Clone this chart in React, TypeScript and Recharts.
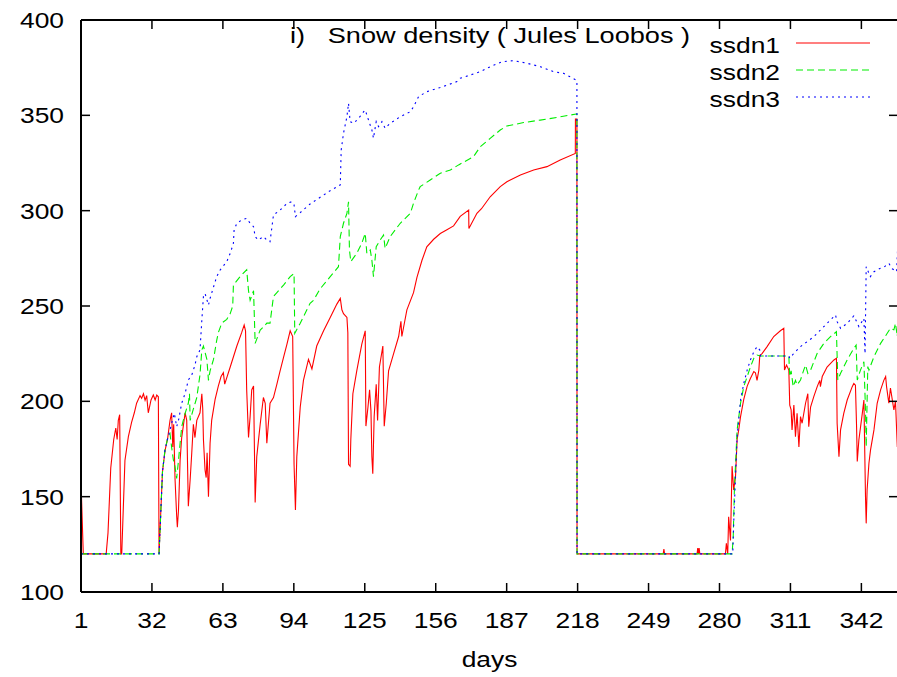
import React from 'react';
import { LineChart, Line, XAxis, YAxis, Legend } from 'recharts';

const DAY_TICKS = [1, 32, 63, 94, 125, 156, 187, 218, 249, 280, 311, 342];
const DENSITY_TICKS = [100, 150, 200, 250, 300, 350, 400];
const DAY_DOMAIN = [1, 358];
const DENSITY_DOMAIN = [100, 400];
const TITLE = 'i)   Snow density ( Jules Loobos )';
const X_LABEL = 'days';

// [day, density]
const SSDN1: [number, number][] = [
  [1, 158], [2, 120], [12, 120], [12.8, 131], [14, 165], [15.3, 180], [16.2, 186], [16.8, 180], [17.3, 190], [17.9, 193], [18.4, 120],
  [18.8, 120], [20.2, 169], [21.7, 181.5], [23.1, 189], [24.3, 194], [25.3, 199], [26.8, 203], [27.5, 201.6], [28.3, 204], [29, 200.5],
  [29.7, 203], [30.4, 194], [31.6, 200.7], [32.6, 203.3], [33.4, 200.7], [34.1, 203.3], [34.8, 202.4], [35.1, 120],
  [36.6, 163], [37.7, 174], [38.9, 181], [39.9, 190], [40.6, 194], [41.1, 176], [41.5, 188], [42.1, 159], [42.8, 140], [43.1, 134],
  [43.6, 143], [44.3, 169], [45, 181], [45.7, 187], [46.5, 194], [47.2, 190], [47.9, 145], [48.7, 159], [49.4, 173], [50.1, 188],
  [50.8, 181], [51.6, 190], [53, 194], [53.8, 204], [54.2, 196], [54.5, 180], [55.2, 164], [55.7, 160], [56.1, 173], [56.7, 150],
  [57.4, 178], [58.1, 190], [59.6, 201], [61, 208], [62.2, 213], [63.2, 215], [63.8, 209], [66.2, 218], [69.1, 229], [71.2, 236],
  [72.3, 240], [72.9, 237], [73.4, 206], [74.2, 181], [74.9, 192], [75.6, 206], [76.4, 208], [77.1, 147], [77.8, 171], [79.3, 188],
  [80.7, 202], [81.5, 199], [82.2, 178], [83.6, 199], [85.1, 202], [86.6, 209], [88, 216], [89.5, 223], [91, 230], [92.4, 237],
  [93.5, 234], [94.1, 167], [94.7, 143], [95.3, 171], [96.8, 197], [98.2, 211], [100.4, 222], [101.9, 217], [104, 229], [107, 237],
  [109.9, 244], [112.8, 251], [114.3, 254], [115, 248], [115.7, 246], [117.2, 244], [117.6, 236], [117.9, 167], [118.6, 166],
  [118.9, 180], [119.8, 204], [121.5, 216], [123.7, 230], [125.2, 237], [125.5, 187], [126.4, 197], [127.1, 206], [127.7, 195],
  [128.1, 171], [128.5, 162], [129.1, 192], [130, 209], [130.6, 190], [131.4, 218], [132.9, 229], [133.5, 187], [134.4, 199],
  [135.4, 216], [137.6, 225], [139.8, 234], [140.8, 242], [141.2, 234], [143.4, 248], [146.3, 257], [147.8, 265], [150, 274],
  [152.1, 281], [155.1, 285], [158, 288], [160.9, 290], [163.8, 292], [166.7, 297], [170.4, 300.3], [170.5, 290.7], [174, 298.6],
  [176, 301], [179.8, 307.3], [184.2, 312.6], [187.1, 315.2], [193, 318.7], [198.8, 321.3], [204.6, 323.1], [210.4, 326.6],
  [217, 330], [217.05, 348], [217.7, 348], [217.75, 120], [255.4, 120], [255.7, 122.5], [256, 120], [270.2, 120], [270.5, 123],
  [270.8, 120], [271.1, 123], [271.4, 120], [282.6, 120], [283, 125.5], [283.6, 120], [284, 139.5], [284.8, 127], [285.5, 166],
  [286.2, 153.5], [287, 160.5], [287.7, 180], [288.4, 185], [289.2, 192], [290.6, 201], [292.1, 208], [293.5, 212], [295, 215.6],
  [295.7, 215], [296.4, 211], [297.2, 216.4], [297.6, 224], [298.6, 225], [300.8, 228.7], [303.7, 234], [306.6, 237], [308.1, 238.3],
  [308.4, 216.4], [309.3, 219], [310.3, 216.4], [310.7, 198], [311.3, 195.5], [311.7, 185], [312.5, 198], [313.2, 181.5],
  [313.9, 193.7], [314.7, 176], [315.4, 192], [316.1, 188.5], [317.6, 199], [318.6, 204], [319, 186.7], [319.8, 197], [321.2, 202.5],
  [322.7, 207.7], [323.8, 211], [324.1, 207.7], [324.9, 213], [327, 218], [330, 221.7], [331.1, 222.6], [331.4, 188.5], [332.2, 171],
  [332.9, 185], [334.3, 193.7], [335.8, 200.7], [338, 207.7], [338.7, 209.4], [339.4, 208.5], [339.9, 186.7], [340.2, 168.4],
  [340.9, 179.7], [342.4, 193.7], [343.1, 200.7], [343.8, 150], [344.1, 136], [344.5, 153.5], [345.3, 167.5], [346, 174.5],
  [347.5, 185], [348.9, 199], [350.4, 206], [351.8, 211], [352.6, 213], [353, 207.7], [354, 199], [354.7, 207], [356.2, 195.5],
  [356.9, 200], [357.7, 176],
];

const SSDN2: [number, number][] = [
  [1, 120], [35.1, 120], [36.6, 163], [37.7, 174.5], [38.9, 180.6], [39.9, 183], [40.6, 176], [41.4, 169], [42.1, 165.7],
  [42.8, 159.6], [43.6, 169], [44.3, 178], [45, 186.7], [46.5, 193.7], [47.9, 199], [48.4, 204], [48.7, 190], [50.1, 196],
  [51.6, 202], [53, 214], [53.8, 227], [54.5, 229], [56, 222], [56.7, 211], [57.4, 216], [58.9, 222], [60.3, 232], [61, 236],
  [62.5, 241], [64.7, 243], [66.2, 246], [67.3, 250], [67.6, 261], [70.5, 265.4], [73.4, 269], [74.2, 258], [74.9, 253],
  [76.4, 258], [77.1, 230.4], [79.3, 237.4], [80.7, 239], [82.2, 241], [83.6, 241], [85.1, 255], [86.6, 257], [89.5, 261],
  [92.4, 265.4], [94.1, 267], [94.4, 235.7], [96.8, 241], [99.7, 248], [101.1, 251.4], [102.6, 253], [105.5, 259], [109.9, 265.4],
  [113.5, 270.6], [114.3, 286.4], [115.7, 293.4], [117.2, 298.6], [117.9, 304.7], [118.3, 279.4], [118.9, 273.3], [121.5, 277.6],
  [123.7, 282.9], [125.2, 288.1], [125.9, 277.6], [127.4, 279.4], [128.1, 274.1], [128.8, 265.4], [130, 281.1], [131.7, 284.6],
  [133.2, 287.2], [133.9, 280.2], [136.1, 286.4], [140.5, 293.4], [144.9, 298.6], [146.3, 303.9], [148.5, 310.8], [149.2, 312.6],
  [153.6, 316.1], [158, 319.6], [162.4, 321.3], [166, 324], [172.5, 328.3], [175.5, 333.6], [179.8, 337.9], [184.2, 342.3],
  [187.1, 344.4], [194.4, 346.2], [201.7, 347.5], [209, 348.9], [217.4, 350.7], [217.7, 350.7], [217.75, 120], [285.5, 120],
  [286, 129], [286.5, 153.5], [287.7, 185], [289.2, 199], [290.6, 207.7], [292.1, 213], [293.5, 218], [295, 222.6], [296.4, 224.3],
  [297.9, 223.8], [310.3, 223.8], [310.7, 213], [311.3, 216], [312.2, 207.7], [313.2, 211], [313.9, 208.6], [315.4, 211.2],
  [316.8, 216.4], [317.6, 219], [318.6, 214.7], [319.8, 216.4], [322.7, 225.2], [325.6, 230.4], [328.5, 233.9], [331.1, 236.5],
  [331.7, 211.2], [332.9, 214.7], [335.8, 221.7], [338.7, 227.8], [339.7, 229.5], [340.2, 211.2], [341.6, 216.4], [343.1, 220.8],
  [343.8, 195.5], [344.1, 176.2], [344.8, 218.2], [345.3, 216.4], [347.5, 223.4], [350.4, 230.4], [353.3, 235.7], [354.7, 238.3],
  [356.2, 237.5], [356.9, 240.9], [357.7, 234], [358, 248],
];

const SSDN3: [number, number][] = [
  [1, 120], [35.1, 120], [36.6, 163], [37.7, 174.5], [38.9, 180.6], [39.9, 185], [40.6, 188.5], [41.8, 193.7], [42.8, 186.7],
  [43.6, 190], [45, 199], [46.5, 204.2], [47.9, 211.2], [49.4, 213.8], [50.8, 219], [51.6, 223.4], [53, 227], [53.8, 242.6],
  [54.5, 255], [55.2, 256.6], [56.7, 250.5], [57.4, 254], [60.3, 265.4], [61.8, 268.9], [64.7, 273.3], [66.2, 277.6], [67.6, 282.9],
  [67.9, 289.9], [69.1, 293.4], [71.2, 295.1], [73.4, 296], [74.9, 293.4], [76.4, 291.6], [77.1, 286.4], [78.5, 284.6],
  [80.7, 286.4], [82.2, 284.6], [83.6, 283.7], [85.1, 297.7], [88, 300.3], [91, 303.8], [93.1, 304.7], [94.1, 303], [94.7, 296.9],
  [96.8, 299], [101.1, 303.5], [105.5, 307], [109.9, 310.5], [114.3, 313.5], [114.7, 331.8], [115.7, 340.6], [117.2, 349.3],
  [117.9, 356.3], [118.6, 346.7], [120.1, 345.8], [122.3, 348.4], [124.5, 351.9], [125.2, 352.8], [126.6, 347.6], [128.1, 342.3],
  [128.8, 338], [130, 346.7], [131, 344.1], [132.5, 346.7], [133.9, 343.2], [136.1, 345.8], [140.5, 349.3], [144.9, 351.9],
  [146.3, 354.5], [148.5, 359.8], [152.1, 362.4], [158, 364.6], [165.3, 367.7], [166.7, 369.4], [175.5, 372.9], [179.8, 375.5],
  [185, 378.1], [190, 378.7], [195.9, 377.3], [201.7, 375.5], [207.5, 372.9], [211.9, 372], [217.4, 368.5], [217.7, 368],
  [217.75, 120], [285.8, 120], [286.2, 136], [287, 160.5], [287.7, 181.5], [289.2, 200.7], [290.6, 209.4], [292.1, 216.4],
  [293.5, 221.7], [295, 226], [296.4, 228.7], [297.6, 226.9], [297.9, 223.8], [310.3, 223.8], [310.7, 222.6], [312.5, 225.2],
  [315.4, 228.7], [318.3, 231.3], [321.2, 233.9], [324.1, 237.4], [327, 240.9], [330.7, 245.3], [331.4, 241.8], [332.9, 238.3],
  [335.8, 240.9], [338.7, 244.8], [339.9, 241.8], [340.9, 239.2], [343.1, 243.5], [343.6, 225], [344.1, 270.6], [345.9, 265.4],
  [347.5, 268], [350.3, 269.8], [352, 270.5], [354, 272.4], [355.5, 269.5], [357.4, 268], [358, 285],
];

const SERIES = [
  { name: 'ssdn1', color: '#ff0000', dash: undefined as string | undefined, points: SSDN1 },
  { name: 'ssdn2', color: '#00ee00', dash: '7 4', points: SSDN2 },
  { name: 'ssdn3', color: '#0000ff', dash: '2 4', points: SSDN3 },
];

// chart layout
const CHART_W = 899;
const CHART_H = 677;
const MARGIN_TOP = 19;
const TOP_AXIS_H = 1;
const BOTTOM_AXIS_H = 85;
const PLOT_H = CHART_H - MARGIN_TOP - TOP_AXIS_H - BOTTOM_AXIS_H;
const TICK_LEN = 9;

const FONT = "'Liberation Sans', Arial, Helvetica, sans-serif";
const STRETCH = 'scale(1.2,1)';

const BottomTick = (props: any) => {
  const { x, y, payload } = props;
  return (
    <g>
      <line x1={x} x2={x} y1={y} y2={y - TICK_LEN} stroke="#000" strokeWidth={1.5} />
      <line x1={x} x2={x} y1={y - PLOT_H} y2={y - PLOT_H + TICK_LEN} stroke="#000" strokeWidth={1.5} />
      <text transform={`translate(${x},${y + 36}) ${STRETCH}`} textAnchor="middle" fontFamily={FONT} fontSize={22} fill="#000">
        {payload.value}
      </text>
    </g>
  );
};

const LeftTick = (props: any) => {
  const { x, y, payload } = props;
  return (
    <g>
      <line x1={x} x2={x + TICK_LEN} y1={y} y2={y} stroke="#000" strokeWidth={1.5} />
      <text transform={`translate(${x - 17},${y + 8}) ${STRETCH}`} textAnchor="end" fontFamily={FONT} fontSize={22} fill="#000">
        {payload.value}
      </text>
    </g>
  );
};

const RightTick = (props: any) => {
  const { x, y } = props;
  return (
    <g>
      <line x1={x} x2={x - TICK_LEN} y1={y} y2={y} stroke="#000" strokeWidth={1.5} />
    </g>
  );
};

const DaysLabel = (props: any) => {
  const vb = props.viewBox || {};
  const cx = (vb.x ?? 0) + (vb.width ?? 0) / 2;
  const y = (vb.y ?? 0) + 75;
  return (
    <text transform={`translate(${cx},${y}) ${STRETCH}`} textAnchor="middle" fontFamily={FONT} fontSize={22} fill="#000">
      {X_LABEL}
    </text>
  );
};

const LegendBox = (props: any) => {
  const payload = (props.payload || []).filter((e: any) => SERIES.some((q) => q.name === e.value));
  return (
    <svg width={897} height={110} style={{ display: 'block' }}>
      {payload.map((entry: any, i: number) => {
        const s = SERIES.find((q) => q.name === entry.value) || SERIES[i];
        const ly = 43 + i * 27;
        return (
          <g key={s.name}>
            <text transform={`translate(780,${ly + 9.5}) ${STRETCH}`} textAnchor="end" fontFamily={FONT} fontSize={22} fill="#000">
              {s.name}
            </text>
            <line x1={796} x2={870} y1={ly} y2={ly} stroke={s.color} strokeWidth={1.2} strokeDasharray={s.dash} />
          </g>
        );
      })}
    </svg>
  );
};

export default function App() {
  const seriesData = SERIES.map((s) => s.points.map(([day, v]) => ({ day, v })));
  return (
    <div style={{ position: 'fixed', left: 0, top: 0, width: 897, height: 677, overflow: 'hidden', background: '#fff' }}>
      <LineChart width={CHART_W} height={CHART_H} margin={{ top: MARGIN_TOP, right: 0, bottom: 0, left: 0 }}>
        <XAxis xAxisId="b" dataKey="day" type="number" domain={DAY_DOMAIN} ticks={DAY_TICKS} orientation="bottom"
          height={BOTTOM_AXIS_H} tickSize={0} tickMargin={0} tickLine={false} tick={BottomTick}
          axisLine={{ stroke: '#000', strokeWidth: 2 }} interval={0} label={{ content: DaysLabel }} />
        <XAxis xAxisId="t" dataKey="day" type="number" domain={DAY_DOMAIN} orientation="top" height={TOP_AXIS_H}
          tickLine={false} tick={false} axisLine={{ stroke: '#000', strokeWidth: 2 }} />
        <YAxis yAxisId="l" type="number" domain={DENSITY_DOMAIN} ticks={DENSITY_TICKS} width={81} tickSize={0} tickMargin={0}
          tickLine={false} tick={LeftTick} axisLine={{ stroke: '#000', strokeWidth: 2 }} interval={0} />
        <YAxis yAxisId="r" orientation="right" type="number" domain={DENSITY_DOMAIN} ticks={DENSITY_TICKS} width={1}
          tickSize={0} tickMargin={0} tickLine={false} tick={RightTick} axisLine={false} interval={0} />
        {SERIES.map((s, i) => (
          <Line key={s.name} name={s.name} xAxisId="b" yAxisId="l" data={seriesData[i]} dataKey="v" type="linear"
            stroke={s.color} strokeWidth={1.1} strokeDasharray={s.dash} dot={false} activeDot={false} isAnimationActive={false} />
        ))}
        {/* invisible series that binds the mirrored top/right axes so their ticks are computed */}
        <Line name="mirror" xAxisId="t" yAxisId="r" data={seriesData[0]} dataKey="v" type="linear" stroke="none"
          strokeOpacity={0} dot={false} activeDot={false} legendType="none" isAnimationActive={false} />
        <Legend layout="vertical" align="center" verticalAlign="middle" content={LegendBox}
          wrapperStyle={{ position: 'absolute', left: 0, top: 0, width: 897, height: 110, margin: 0 }} />
      </LineChart>
      <svg width={897} height={60} style={{ position: 'absolute', left: 0, top: 0, pointerEvents: 'none' }}>
        <text transform={`translate(290,42.7) scale(1.235,1)`} fontFamily={FONT} fontSize={22} fill="#000" style={{ whiteSpace: 'pre' }} xmlSpace="preserve">
          {TITLE}
        </text>
      </svg>
    </div>
  );
}
